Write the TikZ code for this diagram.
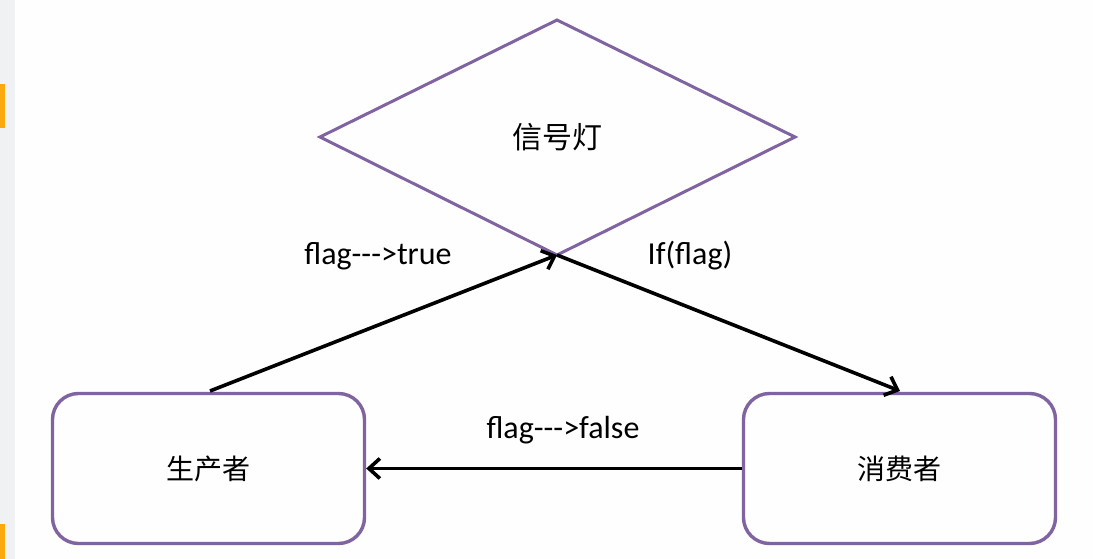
\documentclass[tikz,border=0pt]{standalone}
\usepackage{fontspec}
\setmainfont{Carlito}
\newfontfamily\cjk{Noto Sans CJK SC}
\usetikzlibrary{arrows.meta,shapes.geometric}
\definecolor{boxpurple}{HTML}{8064A2}
\definecolor{uigray}{HTML}{F0F1F3}
\definecolor{uiorange}{HTML}{FBA90F}
\tikzset{
  box/.style={draw=boxpurple, line width=3.4pt, rounded corners=26pt, minimum width=312pt, minimum height=150pt, font=\cjk\fontsize{28}{30}\selectfont, inner sep=0pt},
  conn/.style={draw=black, line width=3.6pt, -{Straight Barb[length=11pt,width=20pt,line width=3.6pt]}},
  lab/.style={font=\fontsize{32}{34}\selectfont, inner sep=0pt}
}
\begin{document}
\begin{tikzpicture}[x=1pt,y=-1pt]
\useasboundingbox (0,0) rectangle (1093,559);
\fill[white!99!gray] (0,0) rectangle (1093,559);
\fill[uigray] (0,0) rectangle (15,559);
\fill[uiorange] (0,84) rectangle (5,128);
\fill[uiorange] (0,524) rectangle (5,559);
\coordinate (L) at (320,137);
\coordinate (R) at (795,137);
\coordinate (T) at (557,20);
\coordinate (B) at (557,255);
\draw[boxpurple, line width=3pt, line join=miter] (L) -- (T) -- (R) -- (B) -- cycle;
\node[font=\cjk\fontsize{30}{32}\selectfont] (sig) at (557,137) {信号灯};
\node[box] (prod) at (208.5,468.5) {生产者};
\node[box] (cons) at (899.5,468.5) {消费者};
\coordinate (pstart) at (210,391);
\coordinate (cend) at (900,391);
\draw[conn] (pstart) -- (B);
\draw[conn] (B) -- (cend);
\draw[conn] (cons.west) -- (prod.east);
\node[lab] (t1) at (378,256) {flag-{}-{}->true};
\node[lab] (t2) at (690,256) {If(flag)};
\node[lab] (t3) at (563,430) {flag-{}-{}->false};
\end{tikzpicture}
\end{document}
